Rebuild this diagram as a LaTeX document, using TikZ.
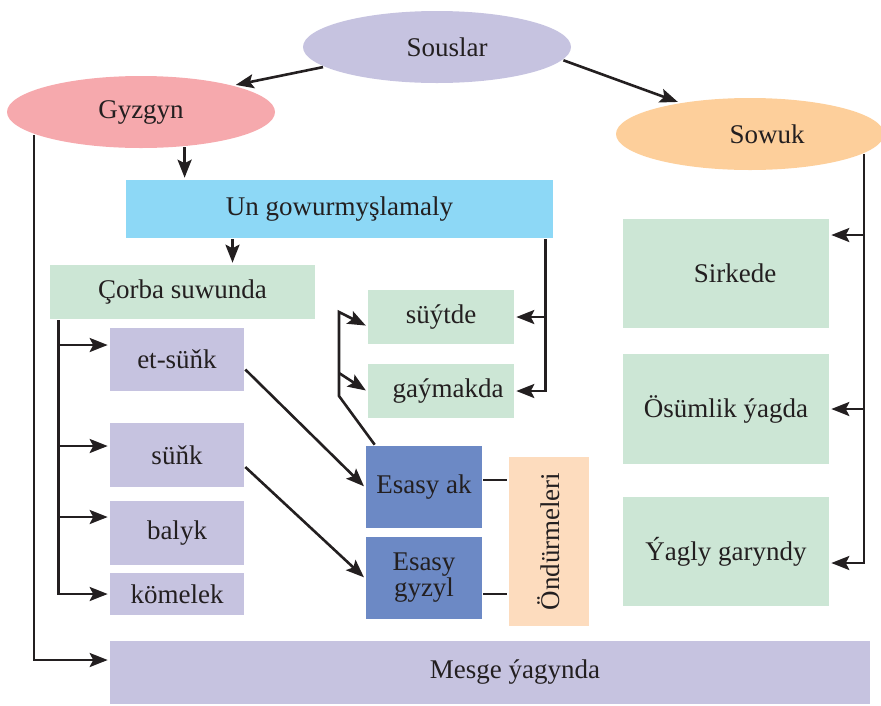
\documentclass[tikz,border=0pt]{standalone}
\usepackage{fontspec}
\setmainfont{Liberation Serif}
\usepackage{graphicx}
\usepackage{tikz}
\usetikzlibrary{positioning, arrows.meta, shapes.geometric}

\definecolor{ink}{HTML}{231F20}
\definecolor{lilac}{HTML}{C6C3E0}
\definecolor{rose}{HTML}{F6A9AD}
\definecolor{apricot}{HTML}{FDCF9B}
\definecolor{sky}{HTML}{8DD8F6}
\definecolor{mintgreen}{HTML}{CCE6D5}
\definecolor{steel}{HTML}{6C89C5}
\definecolor{cream}{HTML}{FDDCBE}

\begin{document}
\begin{tikzpicture}[x=1pt, y=-1pt, shorten >=1pt, on grid,
   every node/.style={font=\fontsize{27}{26}\selectfont, text=ink, inner sep=0pt},
   oval/.style={ellipse, minimum width=268pt, minimum height=72pt},
   greenbox/.style={rectangle, fill=mintgreen, minimum width=146pt, minimum height=54pt},
   lilacbox/.style={rectangle, fill=lilac, minimum width=134pt, minimum height=64pt},
   bluebox/.style={rectangle, fill=steel, minimum width=116pt, minimum height=82pt, align=center},
   sidebox/.style={rectangle, fill=mintgreen, minimum width=206pt, minimum height=109pt},
   line width=2.6pt, draw=ink, >={Stealth[length=18pt, width=14pt, inset=3.5pt]}]
   \useasboundingbox (0,0) rectangle (881,705);

   % Top ellipses
   \node[oval, fill=lilac] (souslar) at (437,47) {\hspace*{20pt}Souslar};
   \node[oval, fill=rose] (gyzgyn) at (141,112) {Gyzgyn};
   \node[oval, fill=apricot] (sowuk) at (750,134) {\hspace*{34pt}Sowuk};

   % Hot branch
   \node[rectangle, fill=sky, minimum width=427pt, minimum height=58pt] (un) at (339.5,209) {Un gowurmyşlamaly};
   \node[greenbox, minimum width=265pt] (corba) at (182.5,292) {Çorba suwunda};
   \node[greenbox] (suytde) at (441,317) {süýtde};
   \node[greenbox] (gaymak) [below=74pt of suytde] {\hspace*{14pt}gaýmakda};

   \node[lilacbox, minimum height=63pt] (etsunk) at (177,359.5) {et-süňk};
   \node[lilacbox] (sunk) [below=95.5pt of etsunk] {süňk};
   \node[lilacbox] (balyk) [below=78pt of sunk] {balyk};
   \node[lilacbox, minimum height=42pt] (komelek) [below=61pt of balyk] {kömelek};

   \node[bluebox] (esasyak) at (424,487) {Esasy ak};
   \node[bluebox] (esasygyzyl) [below=91pt of esasyak] {Esasy\\gyzyl};
   \node[rectangle, fill=cream, minimum width=80pt, minimum height=169pt] (ondur) at (549,541.5) {\rotatebox{90}{Öndürmeleri}};

   \node[rectangle, fill=lilac, minimum width=760pt, minimum height=63pt] (mesge) at (490,672.5) {\hspace*{50pt}Mesge ýagynda};

   % Cold branch
   \node[sidebox] (sirkede) at (726,273.5) {\hspace*{18pt}Sirkede};
   \node[sidebox, minimum height=110pt] (osumlik) [below=135.5pt of sirkede] {Ösümlik ýagda};
   \node[sidebox] (yagly) [below=142.5pt of osumlik] {Ýagly garyndy};

   \coordinate (akturn) at (339,396);
   \coordinate (aktop) at (339,312);
   \coordinate (akfork) at (339,373);

   % Transitions
   \path[->]
    (souslar.190) edge (gyzgyn.16)
    (souslar.-6) edge (sowuk.156)
    (gyzgyn.-39) edge (gyzgyn.-39 |- un.north)
    ([xshift=50pt]corba.north |- un.south) edge ([xshift=50pt]corba.north)
    ([yshift=-10pt]etsunk.east) edge (esasyak.west)
    ([yshift=-12pt]sunk.east) edge (esasygyzyl.west)
    (akfork) edge (gaymak.west);

   \draw[->] ([xshift=-9pt]un.south east) |- (suytde.east);
   \draw[->] ([xshift=-9pt]un.south east) |- (gaymak.east);
   \draw[->] (gyzgyn.192) |- ([yshift=12.5pt]mesge.west);

   \draw[->] ([xshift=10pt]corba.south west) |- ([yshift=14.5pt]etsunk.west);
   \draw[->] ([xshift=10pt]corba.south west) |- ([yshift=9pt]sunk.west);
   \draw[->] ([xshift=10pt]corba.south west) |- ([yshift=16pt]balyk.west);
   \draw[->] ([xshift=10pt]corba.south west) |- (komelek.west);

   \draw[->] ([xshift=10pt]esasyak.north west) -- (akturn) -- (aktop) -- ([yshift=-9pt]suytde.west);
   \draw ([yshift=7pt]esasyak.east) -- ([yshift=7pt]esasyak.east -| ondur.west);
   \draw ([yshift=-16pt]esasygyzyl.east) -- ([yshift=-16pt]esasygyzyl.east -| ondur.west);

   \draw[->] (sowuk.-10) |- ([yshift=38.5pt]sirkede.east);
   \draw[->] (sowuk.-10) |- (osumlik.east);
   \draw[->] (sowuk.-10) |- ([yshift=-11.5pt]yagly.east);
\end{tikzpicture}
\end{document}
